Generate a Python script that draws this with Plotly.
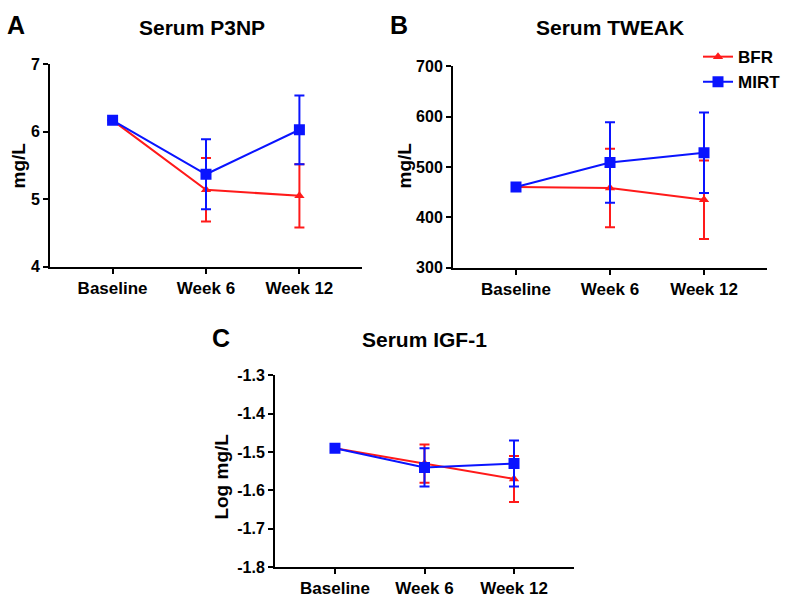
import plotly.graph_objects as go

W, H = 786, 611
categories = ["Baseline", "Week 6", "Week 12"]

# Panel A: Serum P3NP (mg/L)
p3np_bfr = [6.17, 5.14, 5.05]
p3np_bfr_err = [0.0, 0.47, 0.47]
p3np_mirt = [6.17, 5.37, 6.03]
p3np_mirt_err = [0.0, 0.52, 0.51]

# Panel B: Serum TWEAK (mg/L)
tweak_bfr = [460, 458, 435]
tweak_bfr_err = [0, 78, 78]
tweak_mirt = [460, 509, 528]
tweak_mirt_err = [0, 80, 80]

# Panel C: Serum IGF-1 (Log mg/L)
igf_bfr = [-1.49, -1.53, -1.57]
igf_bfr_err = [0.0, 0.05, 0.06]
igf_mirt = [-1.49, -1.54, -1.53]
igf_mirt_err = [0.0, 0.05, 0.06]
igf_tickvals = [-1.8, -1.7, -1.6, -1.5, -1.4, -1.3]
igf_ticktext = ["-1.8", "-1.7", "-1.6", "-1.5", "-1.4", "-1.3"]

RED = "#ff1a1a"
BLUE = "#0a14ff"
FONT = "Liberation Sans, Arial, sans-serif"

def px_x(p):
    return p / W

def px_y(p):
    return 1 - p / H

fig = go.Figure()

panels = [
    ("x", "y", p3np_bfr, p3np_bfr_err, p3np_mirt, p3np_mirt_err),
    ("x2", "y2", tweak_bfr, tweak_bfr_err, tweak_mirt, tweak_mirt_err),
    ("x3", "y3", igf_bfr, igf_bfr_err, igf_mirt, igf_mirt_err),
]

for i, (xa, ya, bfr, bfre, mirt, mirte) in enumerate(panels):
    fig.add_trace(go.Scatter(
        x=categories, y=bfr, xaxis=xa, yaxis=ya, name="BFR",
        mode="lines+markers", legendgroup="BFR", showlegend=(i == 1),
        line=dict(color=RED, width=2),
        marker=dict(symbol="triangle-up", size=9, color=RED),
        error_y=dict(type="data", array=bfre, color=RED, thickness=2, width=5, visible=True),
    ))
    fig.add_trace(go.Scatter(
        x=categories, y=mirt, xaxis=xa, yaxis=ya, name="MIRT",
        mode="lines+markers", legendgroup="MIRT", showlegend=(i == 1),
        line=dict(color=BLUE, width=2),
        marker=dict(symbol="square", size=11, color=BLUE),
        error_y=dict(type="data", array=mirte, color=BLUE, thickness=2, width=5, visible=True),
    ))

axis_common = dict(
    showline=True, linecolor="black", linewidth=2, showgrid=False, zeroline=False,
    ticks="outside", ticklen=5, tickwidth=2, tickcolor="black",
)
xfont = dict(family=FONT, size=17, color="black", weight="bold")
yfont = dict(family=FONT, size=16, color="black", weight="bold")

fig.update_layout(
    width=W, height=H,
    margin=dict(l=0, r=0, t=0, b=0),
    paper_bgcolor="white", plot_bgcolor="white",
    font=dict(family=FONT, color="black"),
    showlegend=True,
    hovermode=False,
    legend=dict(
        x=1.0, y=px_y(32), xanchor="right", yanchor="top",
        font=dict(family=FONT, size=17, color="black", weight="bold"),
        bgcolor="rgba(0,0,0,0)", itemwidth=30, tracegroupgap=0,
    ),
    xaxis=dict(domain=[px_x(50), px_x(362)], range=[-0.67, 2.67], anchor="y", type="category", tickfont=xfont, **axis_common),
    yaxis=dict(domain=[px_y(266), px_y(58)], range=[4, 7], anchor="x", dtick=1, tickfont=yfont, **axis_common),
    xaxis2=dict(domain=[px_x(453), px_x(767)], range=[-0.67, 2.67], anchor="y2", type="category", tickfont=xfont, **axis_common),
    yaxis2=dict(domain=[px_y(267), px_y(60)], range=[300, 700], anchor="x2", dtick=100, tickfont=yfont, **axis_common),
    xaxis3=dict(domain=[px_x(275), px_x(574)], range=[-0.67, 2.67], anchor="y3", type="category", tickfont=xfont, **axis_common),
    yaxis3=dict(domain=[px_y(575), px_y(378)], range=[-1.8, -1.3], anchor="x3",
                tickmode="array", tickvals=igf_tickvals, ticktext=igf_ticktext, tickfont=yfont, **axis_common),
)

def ann(text, x, y, size, xanchor="center", angle=0):
    fig.add_annotation(
        text=text, x=px_x(x), y=px_y(y), xref="paper", yref="paper",
        xanchor=xanchor, yanchor="middle", showarrow=False, textangle=angle,
        font=dict(family=FONT, size=size, color="black", weight="bold"),
    )

ann("A", 5, 17, 25, xanchor="left")
ann("B", 388, 17, 25, xanchor="left")
ann("C", 210, 339, 25, xanchor="left")
ann("Serum P3NP", 202, 20, 21)
ann("Serum TWEAK", 610, 20, 21)
ann("Serum IGF-1", 424, 341, 21)
ann("mg/L", 18, 162, 19, angle=-90)
ann("mg/L", 404, 162, 19, angle=-90)
ann("Log mg/L", 222, 482, 19, angle=-90)

fig.write_html(
    "out.html",
    config={"displayModeBar": False, "staticPlot": True},
    post_script="document.body.style.margin='0';document.body.style.overflow='hidden';",
)
